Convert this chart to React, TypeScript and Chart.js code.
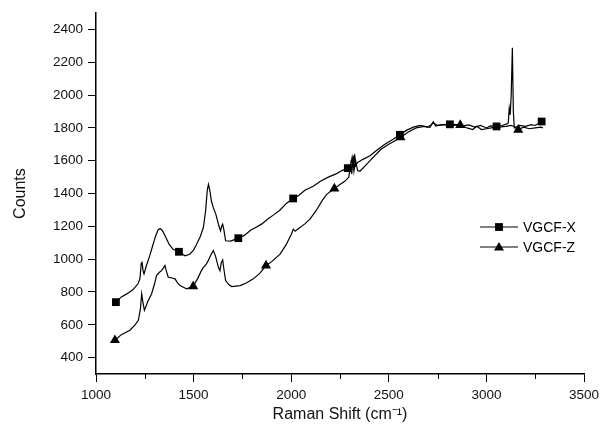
import React, { useEffect, useRef } from "react";
import { Chart, registerables } from "chart.js";

Chart.register(...registerables);

const xTickValues = [1000, 1500, 2000, 2500, 3000, 3500];
const xMinorTickValues = [1250, 1750, 2250, 2750, 3250];
const yTickValues = [400, 600, 800, 1000, 1200, 1400, 1600, 1800, 2000, 2200, 2400];
const seriesNames = ["VGCF-X", "VGCF-Z"];

const vgcfXShift = [
  1102, 1130, 1160, 1190, 1215, 1225, 1232, 1236, 1241, 1246, 1258, 1275, 1290, 1305, 1318, 1328,
  1340, 1355, 1375, 1395, 1425, 1456, 1480, 1500, 1516, 1535, 1550, 1562, 1570, 1576, 1583, 1592,
  1601, 1615, 1627, 1638, 1645, 1649, 1655, 1664, 1690, 1729, 1760, 1790, 1820, 1850, 1880, 1910,
  1943, 1975, 2010, 2040, 2070, 2113, 2150, 2190, 2230, 2260, 2290, 2305, 2312, 2318, 2325, 2330,
  2340, 2370, 2404, 2440, 2480, 2520, 2557, 2590, 2626, 2660, 2690, 2711, 2728, 2740, 2770, 2813,
  2850, 2880, 2910, 2940, 2970, 3000, 3020, 3052, 3080, 3105, 3112, 3117, 3122, 3127, 3133, 3138,
  3143, 3170, 3200, 3230, 3250, 3283, 3290,
];
const vgcfXCounts = [
  738, 770, 790, 815, 850, 880, 975, 980, 930, 910, 960, 1020, 1080, 1140, 1178, 1187,
  1175, 1140, 1090, 1060, 1045, 1021, 1030, 1055, 1092, 1140, 1193, 1300, 1420, 1456, 1420, 1350,
  1314, 1270, 1213, 1173, 1205, 1213, 1180, 1112, 1110, 1128, 1145, 1175, 1195, 1215, 1245, 1270,
  1300, 1340, 1370, 1390, 1420, 1445, 1475, 1500, 1520, 1540, 1555, 1575, 1620, 1560, 1640, 1570,
  1590, 1610, 1630, 1665, 1700, 1730, 1758, 1785, 1805, 1815, 1808, 1803, 1838, 1812, 1820, 1822,
  1820, 1812, 1818, 1805, 1815, 1800, 1812, 1809, 1815, 1825, 1830, 1920, 1880, 2000, 2288, 1900,
  1800, 1815, 1810, 1820, 1815, 1839, 1835,
];
const vgcfXMarkers = [1102, 1425, 1729, 2010, 2290, 2557, 2813, 3052, 3283];

const vgcfZShift = [
  1097, 1130, 1174, 1200, 1217, 1228, 1234, 1240, 1248, 1265, 1285, 1300, 1310, 1325, 1336, 1347,
  1353, 1360, 1370, 1390, 1405, 1415, 1430, 1445, 1464, 1498, 1520, 1540, 1550, 1565, 1575, 1590,
  1601, 1612, 1627, 1635, 1642, 1649, 1655, 1664, 1680, 1695, 1738, 1770, 1806, 1840, 1871, 1900,
  1943, 1975, 2000, 2011, 2020, 2045, 2070, 2096, 2130, 2160, 2182, 2221, 2250, 2276, 2295, 2305,
  2310, 2318, 2322, 2330, 2340, 2352, 2380, 2420, 2460, 2500, 2530, 2560, 2600, 2640, 2680, 2700,
  2728, 2750, 2790, 2820, 2866, 2900, 2930, 2950, 2975, 3000, 3025, 3060, 3100, 3125, 3140, 3163,
  3190, 3220, 3250, 3280, 3290,
];
const vgcfZCounts = [
  506, 540, 567, 600, 627, 700, 789, 740, 688, 740, 789, 850, 900, 920, 930, 950,
  961, 930, 890, 885, 880, 860, 839, 830, 819, 835, 880, 930, 950, 970, 991, 1030,
  1052, 1020, 950, 930, 980, 995, 940, 870, 845, 833, 839, 855, 880, 915, 961, 985,
  1031, 1090, 1150, 1183, 1170, 1193, 1215, 1244, 1300, 1360, 1395, 1430, 1455, 1476, 1500, 1580,
  1520, 1630, 1540, 1600, 1540, 1536, 1570, 1620, 1670, 1700, 1720, 1742, 1775, 1800, 1810, 1805,
  1830, 1815, 1820, 1815, 1818, 1800, 1790, 1810, 1790, 1795, 1800, 1805, 1810, 1815, 1810, 1789,
  1805, 1795, 1800, 1805, 1800,
];
const vgcfZMarkers = [1097, 1498, 1871, 2221, 2560, 2866, 3163];

const FONT = "'Liberation Sans', Arial, sans-serif";

const legendPlugin = {
  id: "insideLegend",
  afterDraw(chart: any) {
    const ctx = chart.ctx;
    const rows = [
      { name: seriesNames[0], style: "rect", y: 227 },
      { name: seriesNames[1], style: "triangle", y: 247 },
    ];
    ctx.save();
    rows.forEach((r) => {
      ctx.strokeStyle = "#000";
      ctx.lineWidth = 1;
      ctx.beginPath();
      ctx.moveTo(480, r.y);
      ctx.lineTo(518, r.y);
      ctx.stroke();
      ctx.fillStyle = "#000";
      const cx = 499;
      if (r.style === "rect") {
        ctx.fillRect(cx - 3.9, r.y - 3.9, 7.8, 7.8);
      } else {
        ctx.beginPath();
        ctx.moveTo(cx, r.y - 5);
        ctx.lineTo(cx + 5, r.y + 3.5);
        ctx.lineTo(cx - 5, r.y + 3.5);
        ctx.closePath();
        ctx.fill();
      }
      ctx.font = `14px ${FONT}`;
      ctx.textBaseline = "middle";
      ctx.textAlign = "left";
      ctx.fillText(r.name, 523, r.y + 1);
    });
    ctx.restore();
  },
};

const minorTickPlugin = {
  id: "minorTicks",
  afterDraw(chart: any) {
    const xs = chart.scales.x;
    const ctx = chart.ctx;
    ctx.save();
    ctx.strokeStyle = "#000";
    ctx.lineWidth = 1;
    xMinorTickValues.forEach((v) => {
      const px = Math.round(xs.getPixelForValue(v)) + 0.5;
      ctx.beginPath();
      ctx.moveTo(px, chart.chartArea.bottom);
      ctx.lineTo(px, chart.chartArea.bottom + 5);
      ctx.stroke();
    });
    ctx.restore();
  },
};

export default function App() {
  const ref = useRef<HTMLCanvasElement | null>(null);

  useEffect(() => {
    if (!ref.current) return;
    const mk = (xs: number[], ys: number[]) => xs.map((x, i) => ({ x, y: ys[i] }));
    const chart = new Chart(ref.current, {
      type: "line",
      data: {
        datasets: [
          {
            label: seriesNames[0],
            data: mk(vgcfXShift, vgcfXCounts),
            borderColor: "#000",
            backgroundColor: "#000",
            borderWidth: 1.2,
            pointStyle: "rect",
            pointRadius: (c: any) => (c.raw && vgcfXMarkers.includes(c.raw.x) ? 5.5 : 0),
            pointBorderWidth: 0,
            tension: 0,
          },
          {
            label: seriesNames[1],
            data: mk(vgcfZShift, vgcfZCounts),
            borderColor: "#000",
            backgroundColor: "#000",
            borderWidth: 1.2,
            pointStyle: "triangle",
            pointRadius: (c: any) => (c.raw && vgcfZMarkers.includes(c.raw.x) ? 5.8 : 0),
            pointBorderWidth: 0,
            tension: 0,
          },
        ],
      },
      options: {
        responsive: false,
        animation: false,
        layout: { padding: { top: 10, right: 23, left: 0, bottom: 0 } },
        plugins: { legend: { display: false }, tooltip: { enabled: false } },
        scales: {
          x: {
            type: "linear",
            min: 1000,
            max: 3500,
            afterBuildTicks: (s: any) => {
              s.ticks = xTickValues.map((v) => ({ value: v }));
            },
            afterFit: (s: any) => {
              s.height = 58;
            },
            border: { display: true, color: "#000", width: 1.5 },
            grid: { drawOnChartArea: false, drawTicks: true, tickLength: 8, color: "#000", tickWidth: 1 },
            ticks: {
              color: "#111",
              font: { family: FONT, size: 13.5 },
              padding: 5,
              maxRotation: 0,
              callback: (v: any) => String(v),
            },
            title: {
              display: true,
              text: "Raman Shift (cm⁻¹)",
              color: "#111",
              font: { family: FONT, size: 16 },
              padding: { top: 0, bottom: 8 },
            },
          },
          y: {
            type: "linear",
            min: 300,
            max: 2500,
            afterBuildTicks: (s: any) => {
              s.ticks = yTickValues.map((v) => ({ value: v }));
            },
            afterFit: (s: any) => {
              s.width = 96;
            },
            border: { display: true, color: "#000", width: 1.5 },
            grid: { drawOnChartArea: false, drawTicks: true, tickLength: 8, color: "#000", tickWidth: 1 },
            ticks: {
              color: "#111",
              font: { family: FONT, size: 13.5 },
              padding: 5,
              callback: (v: any) => String(v),
            },
            title: {
              display: true,
              text: "Counts",
              color: "#111",
              font: { family: FONT, size: 16 },
              padding: { top: 11, bottom: 0 },
            },
          },
        },
      },
      plugins: [legendPlugin, minorTickPlugin],
    } as any);
    return () => chart.destroy();
  }, []);

  return (
    <div style={{ position: "fixed", left: 0, top: 0, width: 607, height: 432, background: "#fff" }}>
      <canvas ref={ref} width={607} height={432} style={{ width: 607, height: 432, display: "block" }} />
    </div>
  );
}
